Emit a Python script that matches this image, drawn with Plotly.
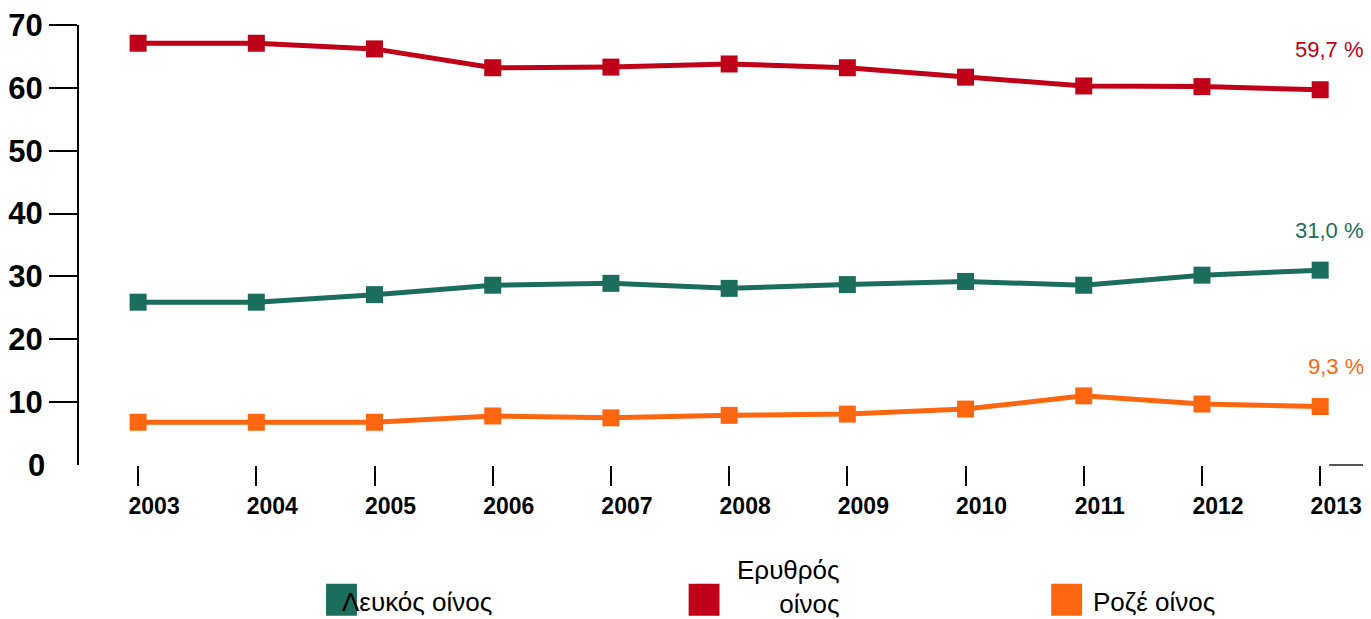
import plotly.graph_objects as go

years = [2003, 2004, 2005, 2006, 2007, 2008, 2009, 2010, 2011, 2012, 2013]
red_wine = [67.1, 67.1, 66.2, 63.2, 63.3, 63.8, 63.2, 61.7, 60.3, 60.2, 59.7]
white_wine = [25.9, 25.9, 27.1, 28.6, 28.9, 28.1, 28.7, 29.2, 28.6, 30.2, 31.0]
rose_wine = [6.8, 6.8, 6.8, 7.8, 7.5, 7.9, 8.1, 8.9, 11.0, 9.7, 9.3]

names = ["Λευκός οίνος", "Ερυθρός<br>οίνος", "Ροζέ οίνος"]
end_labels = ["31,0 %", "59,7 %", "9,3 %"]
colors = ["#1b6e5e", "#c00018", "#ff6610"]
series = [white_wine, red_wine, rose_wine]

y_ticks = [10, 20, 30, 40, 50, 60, 70]

# page body margin offset (browser default)
OFF = 8
W, H = 1371 - OFF, 619 - OFF
L, R, T = 74 - OFF, 0, 24 - OFF
B = H - (465 - OFF)
pw, ph = W - L - R, H - T - B

def px(x):  # screen pixel -> paper x
    return (x - OFF - L) / pw

def py(y):  # screen pixel -> paper y
    return (H - B - (y - OFF)) / ph

fig = go.Figure()
for vals, c, n in zip(series, colors, names):
    fig.add_trace(go.Scatter(
        x=years, y=vals, mode="lines+markers", name=n,
        line=dict(color=c, width=5),
        marker=dict(symbol="square", size=17, color=c),
        showlegend=False, hoverinfo="x+y"))

annotations = []
for vals, c, lab in zip(series, colors, end_labels):
    annotations.append(dict(
        x=years[-1], y=vals[-1], text=lab, showarrow=False,
        xanchor="right", yanchor="middle", xshift=46, yshift=40,
        font=dict(family="Liberation Sans", size=22, color=c)))

annotations.append(dict(
    x=0, xref="paper", y=0, yref="y", text="<b>0</b>", showarrow=False,
    xanchor="right", yanchor="middle", xshift=-32, yshift=0,
    font=dict(family="Liberation Sans", size=31, color="black")))

# custom legend: (square left px, text x px, anchor, text centre y px)
legend_items = [
    (322, 336, "left", 602),
    (686, 840, "right", 587),
    (1050, 1090, "left", 602),
]
shapes = []
for (sx, tx, anchor, ty), c, n in zip(legend_items, colors, names):
    shapes.append(dict(type="rect", xref="paper", yref="paper",
                       x0=px(sx), x1=px(sx + 31), y0=py(616), y1=py(584),
                       fillcolor=c, line=dict(width=0), layer="below"))
    annotations.append(dict(
        x=px(tx), y=py(ty), xref="paper", yref="paper", text=n,
        showarrow=False, xanchor=anchor, yanchor="middle",
        align="right" if anchor == "right" else "left",
        font=dict(family="Liberation Sans", size=26, color="black")))

# short baseline segment at far right
shapes.append(dict(type="line", xref="paper", yref="paper",
                   x0=px(1329), x1=px(1371), y0=0, y1=0,
                   line=dict(color="#555555", width=2)))

fig.update_layout(
    width=W, height=H,
    margin=dict(l=L, r=R, t=T, b=B),
    plot_bgcolor="white", paper_bgcolor="white",
    annotations=annotations, shapes=shapes,
    xaxis=dict(range=[2002.5, 2013.43], tickvals=years,
               ticktext=[f"<b>{y}</b>" for y in years],
               ticklabelshift=16,
               showline=False, showgrid=False, zeroline=False,
               ticks="outside", ticklen=20, tickwidth=1.5, tickcolor="black",
               tickfont=dict(family="Liberation Sans", size=23, color="black")),
    yaxis=dict(range=[0, 70], tickvals=y_ticks,
               ticktext=[f"<b>{v}</b>" for v in y_ticks],
               ticklabeloverflow="allow",
               showline=True, linecolor="black", linewidth=2,
               showgrid=False, zeroline=False,
               ticks="outside", ticklen=28, tickwidth=1.5, tickcolor="black",
               tickfont=dict(family="Liberation Sans", size=31, color="black")),
)

fig.write_html("out.html")
